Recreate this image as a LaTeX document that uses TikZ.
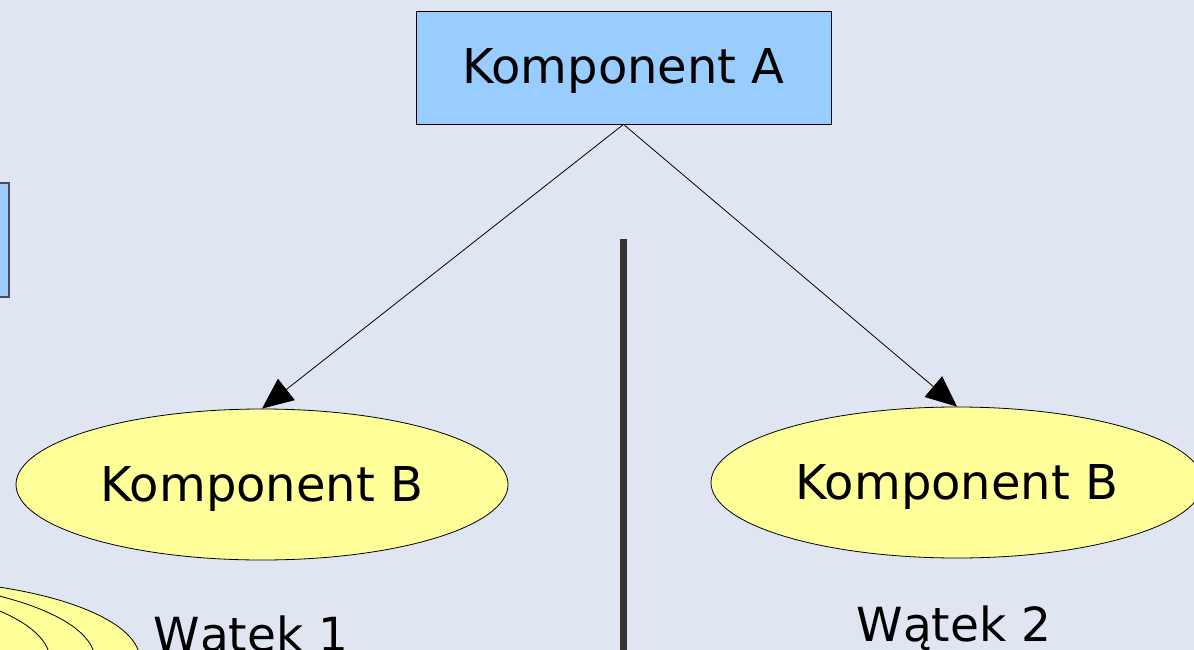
\documentclass[tikz,border=0pt]{standalone}
\usepackage{fontspec}
\setmainfont{DejaVu Sans}
\usetikzlibrary{shapes.geometric,arrows.meta}
\definecolor{bg}{RGB}{223,230,242}
\definecolor{boxblue}{RGB}{153,204,255}
\definecolor{ellyellow}{RGB}{255,255,153}
\definecolor{bar}{RGB}{51,51,51}
\tikzset{
  compbox/.style={draw=black, fill=boxblue, line width=0.8pt, minimum width=415pt, minimum height=113pt, inner sep=0pt, text height=35pt, text depth=3pt, font=\fontsize{48}{56}\selectfont},
  compell/.style={ellipse, draw=black, fill=ellyellow, line width=0.8pt, minimum width=492pt, minimum height=151pt, inner sep=0pt, text height=35pt, text depth=2pt, font=\fontsize{48}{56}\selectfont},
  conn/.style={line width=0.8pt, -{Triangle[length=31pt,width=27pt]}},
  lbl/.style={font=\fontsize{47}{56}\selectfont, anchor=base, inner sep=0pt},
}
\begin{document}
\begin{tikzpicture}[x=1pt,y=-1pt]
\useasboundingbox (0,0) rectangle (1194,650);
\fill[bg] (0,0) rectangle (1194,650);
\begin{scope}
\clip (0,0) rectangle (1194,650);
% left partial box
\draw[fill=boxblue, draw=black!70, line width=1.2pt] (-300,183) rectangle (9,297);
% stacked ellipses bottom-left
\foreach \cx in {-100,-145,-190}{
  \draw[fill=ellyellow, draw=black, line width=0.8pt] (\cx,660) ellipse [x radius=240, y radius=80];
}
% vertical bar
\fill[bar] (620,239) rectangle (627,660);
\node[compbox] (A) at (623.5,67.5) {Komponent A};
\node[compell] (B1) at (262,484.5) {Komponent B};
\node[compell] (B2) at (957,482.5) {Komponent B};
\draw[conn] (A.south) -- (B1.north);
\draw[conn] (A.south) -- (B2.north);
\node[lbl] (W1) at (251,651) {Wątek 1};
\node[lbl] (W2) at (954,641) {Wątek 2};
\end{scope}
\end{tikzpicture}
\end{document}
